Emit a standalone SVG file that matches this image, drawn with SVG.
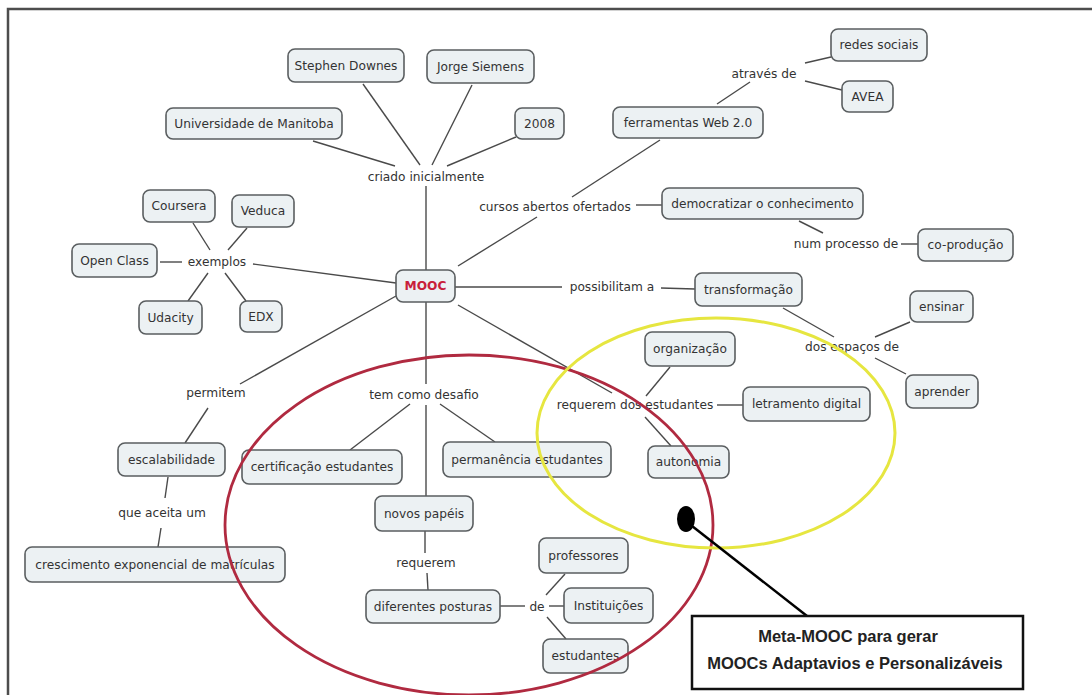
<svg xmlns="http://www.w3.org/2000/svg" width="1092" height="695" viewBox="0 0 1092 695">
  <style>
    .node rect { fill: #ecf1f3; stroke: #5a5e60; stroke-width: 1.6; }
    .node text, .link text { font-family: "DejaVu Sans", Verdana, sans-serif; font-size: 12.2px; fill: #333333; text-anchor: middle; }
    .root text { fill: #c8203a; font-weight: bold; }
    .conn line { stroke: #4a4a4a; stroke-width: 1.4; }
    .callout text { font-family: "Liberation Sans", Arial, sans-serif; font-weight: bold; font-size: 16.5px; fill: #222; text-anchor: middle; }
  </style>

  <rect width="1092" height="695" fill="#ffffff"/>
  <!-- frame (only top and left edges visible) -->
  <path d="M8 695 V9 H1092" fill="none" stroke="#4d4d4d" stroke-width="2.5"/>

  <!-- connectors -->
  <g id="connectors" class="conn">
    <line x1="426" y1="270" x2="426" y2="186"/>
    <line x1="313" y1="141" x2="395" y2="166"/>
    <line x1="363" y1="84" x2="420" y2="165"/>
    <line x1="472" y1="85" x2="432" y2="165"/>
    <line x1="516" y1="137" x2="447" y2="166"/>
    <line x1="458" y1="266" x2="537" y2="217"/>
    <line x1="572" y1="197" x2="660" y2="140"/>
    <line x1="636" y1="205" x2="662" y2="205"/>
    <line x1="717" y1="104" x2="750" y2="82"/>
    <line x1="805" y1="63" x2="831" y2="57"/>
    <line x1="805" y1="81" x2="842" y2="90"/>
    <line x1="799" y1="221" x2="823" y2="233"/>
    <line x1="901" y1="244" x2="918" y2="244"/>
    <line x1="396" y1="283" x2="253" y2="264"/>
    <line x1="160" y1="262" x2="182" y2="262"/>
    <line x1="193" y1="223" x2="210" y2="250"/>
    <line x1="247" y1="228" x2="228" y2="250"/>
    <line x1="208" y1="273" x2="188" y2="301"/>
    <line x1="225" y1="273" x2="246" y2="301"/>
    <line x1="396" y1="296" x2="240" y2="384"/>
    <line x1="208" y1="408" x2="185" y2="443"/>
    <line x1="168" y1="477" x2="165" y2="498"/>
    <line x1="161" y1="528" x2="158" y2="547"/>
    <line x1="426" y1="302" x2="426" y2="384"/>
    <line x1="426" y1="405" x2="426" y2="496"/>
    <line x1="410" y1="404" x2="350" y2="450"/>
    <line x1="440" y1="404" x2="495" y2="442"/>
    <line x1="425" y1="531" x2="425" y2="553"/>
    <line x1="427" y1="573" x2="428" y2="590"/>
    <line x1="500" y1="606" x2="525" y2="606"/>
    <line x1="546" y1="595" x2="565" y2="574"/>
    <line x1="549" y1="606" x2="564" y2="606"/>
    <line x1="547" y1="617" x2="566" y2="639"/>
    <line x1="455" y1="287" x2="562" y2="287"/>
    <line x1="661" y1="288" x2="695" y2="289"/>
    <line x1="783" y1="308" x2="834" y2="337"/>
    <line x1="875" y1="337" x2="910" y2="322"/>
    <line x1="875" y1="358" x2="906" y2="374"/>
    <line x1="458" y1="305" x2="612" y2="393"/>
    <line x1="646" y1="396" x2="670" y2="367"/>
    <line x1="717" y1="405" x2="743" y2="405"/>
    <line x1="645" y1="417" x2="671" y2="446"/>
  </g>

  <!-- concept nodes -->
  <g id="n-stephen" class="node"><rect x="288" y="49" width="116" height="33" rx="7"/><text x="346" y="70">Stephen Downes</text></g>
  <g id="n-jorge" class="node"><rect x="427" y="50" width="107" height="33" rx="7"/><text x="480.5" y="71">Jorge Siemens</text></g>
  <g id="n-manitoba" class="node"><rect x="166" y="108" width="176" height="31" rx="7"/><text x="254" y="128">Universidade de Manitoba</text></g>
  <g id="n-2008" class="node"><rect x="515" y="108" width="49" height="31" rx="7"/><text x="539.5" y="128">2008</text></g>
  <g id="n-ferramentas" class="node"><rect x="613" y="107" width="150" height="31" rx="7"/><text x="688" y="127">ferramentas Web 2.0</text></g>
  <g id="n-redes" class="node"><rect x="831" y="29" width="96" height="32" rx="7"/><text x="879" y="49">redes sociais</text></g>
  <g id="n-avea" class="node"><rect x="842" y="81" width="51" height="31" rx="7"/><text x="867.5" y="101">AVEA</text></g>
  <g id="n-democratizar" class="node"><rect x="662" y="188" width="201" height="31" rx="7"/><text x="762.5" y="208">democratizar o conhecimento</text></g>
  <g id="n-coproducao" class="node"><rect x="918" y="229" width="95" height="32" rx="7"/><text x="965.5" y="249">co-produção</text></g>
  <g id="n-coursera" class="node"><rect x="143" y="190" width="72" height="32" rx="7"/><text x="179" y="210">Coursera</text></g>
  <g id="n-veduca" class="node"><rect x="232" y="195" width="62" height="32" rx="7"/><text x="263" y="215">Veduca</text></g>
  <g id="n-openclass" class="node"><rect x="72" y="244" width="85" height="33" rx="7"/><text x="114.5" y="265">Open Class</text></g>
  <g id="n-udacity" class="node"><rect x="139" y="301" width="63" height="33" rx="7"/><text x="170.5" y="322">Udacity</text></g>
  <g id="n-edx" class="node"><rect x="240" y="301" width="42" height="31" rx="7"/><text x="261" y="321">EDX</text></g>
  <g id="n-mooc" class="node root"><rect x="396" y="270" width="59" height="32" rx="7"/><text x="425.5" y="290">MOOC</text></g>
  <g id="n-transformacao" class="node"><rect x="695" y="273" width="107" height="33" rx="7"/><text x="748.5" y="294">transformação</text></g>
  <g id="n-ensinar" class="node"><rect x="910" y="291" width="63" height="31" rx="7"/><text x="941.5" y="311">ensinar</text></g>
  <g id="n-aprender" class="node"><rect x="906" y="375" width="72" height="33" rx="7"/><text x="942" y="396">aprender</text></g>
  <g id="n-organizacao" class="node"><rect x="645" y="332" width="90" height="34" rx="7"/><text x="690" y="353">organização</text></g>
  <g id="n-letramento" class="node"><rect x="743" y="387" width="127" height="34" rx="7"/><text x="806.5" y="408">letramento digital</text></g>
  <g id="n-autonomia" class="node"><rect x="648" y="446" width="81" height="32" rx="7"/><text x="688.5" y="466">autonomia</text></g>
  <g id="n-permanencia" class="node"><rect x="443" y="442" width="168" height="35" rx="7"/><text x="527" y="464">permanência estudantes</text></g>
  <g id="n-certificacao" class="node"><rect x="242" y="450" width="160" height="34" rx="7"/><text x="322" y="471">certificação estudantes</text></g>
  <g id="n-escalabilidade" class="node"><rect x="118" y="443" width="107" height="33" rx="7"/><text x="171.5" y="464">escalabilidade</text></g>
  <g id="n-crescimento" class="node"><rect x="25" y="547" width="260" height="35" rx="7"/><text x="155" y="569">crescimento exponencial de matrículas</text></g>
  <g id="n-novos" class="node"><rect x="375" y="496" width="98" height="35" rx="7"/><text x="424" y="518">novos papéis</text></g>
  <g id="n-posturas" class="node"><rect x="366" y="590" width="134" height="33" rx="7"/><text x="433" y="611">diferentes posturas</text></g>
  <g id="n-professores" class="node"><rect x="539" y="538" width="89" height="35" rx="7"/><text x="583.5" y="560">professores</text></g>
  <g id="n-instituicoes" class="node"><rect x="564" y="588" width="89" height="35" rx="7"/><text x="608.5" y="610">Instituições</text></g>
  <g id="n-estudantes" class="node"><rect x="543" y="639" width="85" height="34" rx="7"/><text x="585.5" y="660">estudantes</text></g>

  <!-- linking phrases -->
  <g id="l-criado" class="link"><text x="426" y="181">criado inicialmente</text></g>
  <g id="l-atraves" class="link"><text x="764" y="78">através de</text></g>
  <g id="l-cursos" class="link"><text x="555" y="211">cursos abertos ofertados</text></g>
  <g id="l-processo" class="link"><text x="846" y="248">num processo de</text></g>
  <g id="l-exemplos" class="link"><text x="217" y="266">exemplos</text></g>
  <g id="l-possibilitam" class="link"><text x="612" y="291">possibilitam a</text></g>
  <g id="l-espacos" class="link"><text x="852" y="351">dos espaços de</text></g>
  <g id="l-requerem-est" class="link"><text x="635" y="409">requerem dos estudantes</text></g>
  <g id="l-desafio" class="link"><text x="424" y="399">tem como desafio</text></g>
  <g id="l-permitem" class="link"><text x="216" y="397">permitem</text></g>
  <g id="l-aceita" class="link"><text x="162" y="517">que aceita um</text></g>
  <g id="l-requerem" class="link"><text x="426" y="567">requerem</text></g>
  <g id="l-de" class="link"><text x="537" y="611">de</text></g>

  <!-- highlight ellipses -->
  <ellipse cx="469" cy="525" rx="244" ry="170" fill="none" stroke="#b02a40" stroke-width="2.8"/>
  <ellipse cx="716" cy="433" rx="179" ry="115" fill="none" stroke="#e6e640" stroke-width="3"/>

  <!-- callout -->
  <g id="callout" class="callout">
    <ellipse cx="686" cy="519" rx="9" ry="13" fill="#000"/>
    <line x1="692" y1="526" x2="807" y2="616" stroke="#000" stroke-width="2.5"/>
    <rect x="692" y="616" width="331" height="73" fill="#fff" stroke="#111" stroke-width="2.5"/>
    <text x="848" y="642">Meta-MOOC para gerar</text>
    <text x="855" y="669">MOOCs Adaptavios e Personalizáveis</text>
  </g>
</svg>
